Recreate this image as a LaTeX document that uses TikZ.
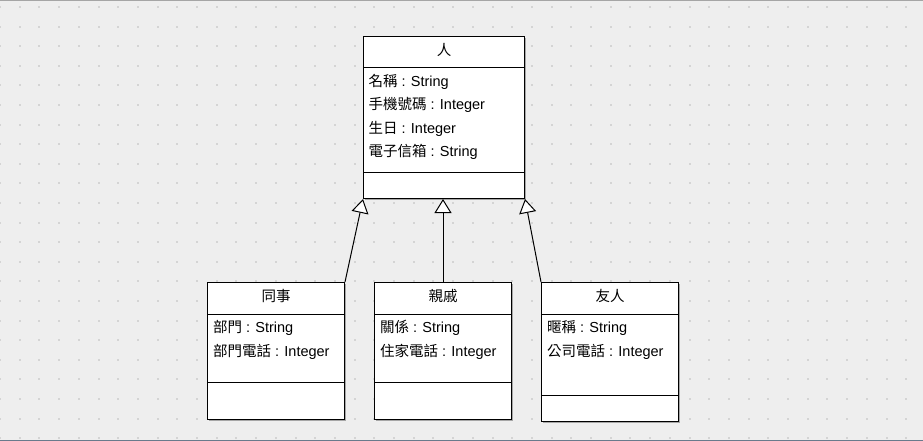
\documentclass[tikz,border=0pt]{standalone}
\usepackage{fontspec}
\setmainfont{Liberation Sans}
\newfontfamily\cjk{Noto Sans CJK TC}
\usetikzlibrary{arrows.meta,positioning}
\definecolor{canvas}{RGB}{238,238,238}
\definecolor{griddot}{RGB}{212,212,212}
\definecolor{rimline}{RGB}{165,165,165}
\definecolor{statusline}{RGB}{105,122,140}
\newcommand{\umlfield}[2]{{\cjk #1} : #2}

\begin{document}
\begin{tikzpicture}[x=1pt,y=-1pt,line width=1pt]
\tikzstyle{every node}+=[inner sep=0pt]
\tikzstyle{classbox}=[draw,fill=white,anchor=north west,
  preaction={fill=black!35,transform canvas={shift={(1.5pt,-1.5pt)}}}]
\tikzstyle{classname}=[anchor=base,font=\cjk\fontsize{14.5}{17}\selectfont]
\tikzstyle{field}=[anchor=base west,font=\fontsize{14.5}{17}\selectfont]
\tikzstyle{inherit}=[-{Triangle[length=14pt,width=17pt,fill=white]}]
\useasboundingbox (0,0) rectangle (923,441);
% canvas with dot grid
\fill [canvas] (0,0) rectangle (923,441);
\foreach \c in {0,...,46}
  \foreach \r in {0,...,22}
    \fill [griddot] (\c*19.7-1,\r*19.6+6) rectangle ++(2,2);
\draw [rimline] (0,0.5) -- (923,0.5);
\draw [statusline] (0,440.5) -- (923,440.5);
% class boxes
\node [classbox,minimum width=161pt,minimum height=162pt] (person) at (363,36) {};
\node [classbox,minimum width=137pt,minimum height=137pt] (colleague) at (207,282) {};
\node [classbox,minimum width=137pt,minimum height=137pt] (relative) at (374,282) {};
\node [classbox,minimum width=137pt,minimum height=139pt] (friend) at (541,282) {};
% compartments
\draw ([yshift=-32pt]person.north west) -- ([yshift=-32pt]person.north east);
\draw ([yshift=27pt]person.south west) -- ([yshift=27pt]person.south east);
\foreach \b/\h in {colleague/38,relative/38,friend/27} {
  \draw ([yshift=-32pt]\b.north west) -- ([yshift=-32pt]\b.north east);
  \draw ([yshift=\h pt]\b.south west) -- ([yshift=\h pt]\b.south east);
}
% names
\node [classname] (person-name) at ([yshift=-20pt]person.north) {人};
\node [classname] (colleague-name) at ([yshift=-19pt]colleague.north) {同事};
\node [classname] (relative-name) at ([yshift=-19pt]relative.north) {親戚};
\node [classname] (friend-name) at ([yshift=-19pt]friend.north) {友人};
% attributes
\foreach \n/\t [count=\i] in {名稱/String,手機號碼/Integer,生日/Integer,電子信箱/String}
  \node [field] (person-\i) at ([shift={(5pt,{-51pt-(\i-1)*23pt})}]person.north west) {\umlfield{\n}{\t}};
\foreach \n/\t [count=\i] in {部門/String,部門電話/Integer}
  \node [field] (colleague-\i) at ([shift={(5.5pt,{-50pt-(\i-1)*24pt})}]colleague.north west) {\umlfield{\n}{\t}};
\foreach \n/\t [count=\i] in {關係/String,住家電話/Integer}
  \node [field] (relative-\i) at ([shift={(5.5pt,{-50pt-(\i-1)*24pt})}]relative.north west) {\umlfield{\n}{\t}};
\foreach \n/\t [count=\i] in {暱稱/String,公司電話/Integer}
  \node [field] (friend-\i) at ([shift={(5.5pt,{-50pt-(\i-1)*24pt})}]friend.north west) {\umlfield{\n}{\t}};
% generalisations
\draw [inherit] (colleague.north east) -- (person.south west);
\draw [inherit] (relative.north) -- (relative.north |- person.south);
\draw [inherit] (friend.north west) -- (person.south east);
\end{tikzpicture}
\end{document}
